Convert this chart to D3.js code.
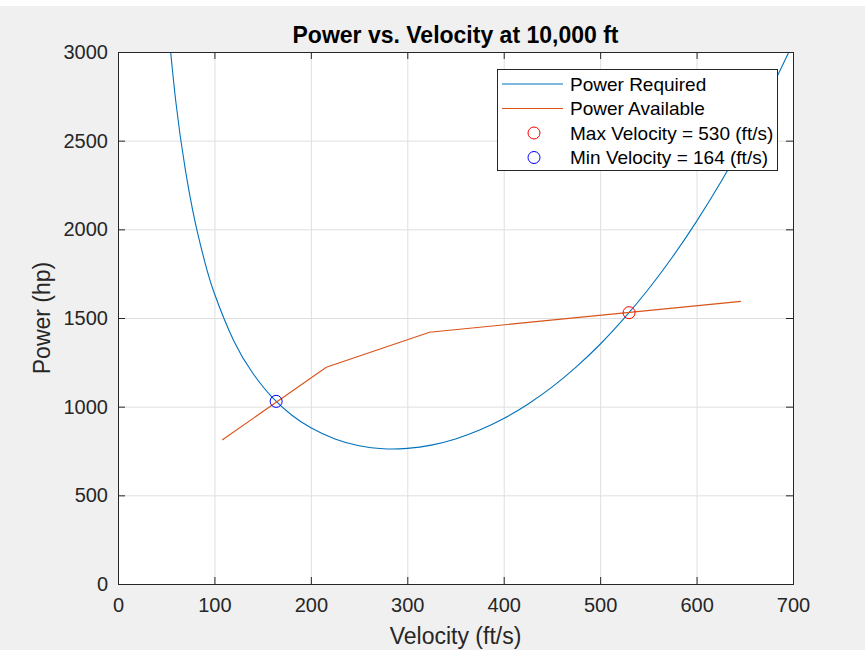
<!DOCTYPE html>
<html>
<head>
<meta charset="utf-8">
<script src="https://cdn.jsdelivr.net/npm/d3@7"></script>
<style>
  html, body { margin: 0; padding: 0; background: #f0f0f0; }
  svg { display: block; }
  text { font-family: "Liberation Sans", Arial, Helvetica, sans-serif; }
</style>
</head>
<body>
<script>
// ---- data ----
const prVelocity = [50, 60, 70, 80, 90, 100, 120, 140, 160, 180, 200, 225, 250, 275, 300, 325, 350, 375, 400, 425, 450, 475, 500, 525, 550, 575, 600, 625, 650, 675, 700];
const prPower    = [3260, 2718, 2331, 2041, 1817, 1638, 1372, 1187, 1052, 953, 881, 818, 780, 763, 765, 783, 818, 868, 933, 1014, 1110, 1223, 1352, 1499, 1662, 1844, 2045, 2265, 2506, 2767, 3049];
const paVelocity = [108, 216, 323, 646];
const paPower    = [812, 1222, 1420, 1594];
const maxPoint = {v: 530, p: 1530};
const minPoint = {v: 164, p: 1030};
const xTicks = [0, 100, 200, 300, 400, 500, 600, 700];
const yTicks = [0, 500, 1000, 1500, 2000, 2500, 3000];
const legendLabels = ["Power Required", "Power Available", "Max Velocity = 530 (ft/s)", "Min Velocity = 164 (ft/s)"];
const titleText = "Power vs. Velocity at 10,000 ft";
const xLabelText = "Velocity (ft/s)";
const yLabelText = "Power (hp)";

const W = 865, H = 650;
const L = 118, R = 793, T = 52, B = 584;
const cBlue = "#0072BD", cOrange = "#D95319", axisCol = "#262626";

const svg = d3.select("body").append("svg").attr("width", W).attr("height", H);
svg.append("rect").attr("x", 0).attr("y", 0).attr("width", W).attr("height", H).attr("fill", "#f0f0f0");
svg.append("rect").attr("x", 0).attr("y", 0).attr("width", W).attr("height", 6).attr("fill", "#ffffff");

const x = d3.scaleLinear().domain([0, 700]).range([L, R]);
const y = d3.scaleLinear().domain([0, 3000]).range([B, T]);

// plot area
svg.append("rect").attr("x", L).attr("y", T).attr("width", R - L).attr("height", B - T).attr("fill", "#fff");

// grid
const grid = svg.append("g");
grid.selectAll(".gx").data(xTicks).enter().append("line")
  .attr("x1", d => x(d) + 0.5).attr("x2", d => x(d) + 0.5).attr("y1", T).attr("y2", B)
  .attr("stroke", "#dfdfdf").attr("stroke-width", 1);
grid.selectAll(".gy").data(yTicks).enter().append("line")
  .attr("y1", d => y(d) + 0.5).attr("y2", d => y(d) + 0.5).attr("x1", L).attr("x2", R)
  .attr("stroke", "#dfdfdf").attr("stroke-width", 1);

// clip
svg.append("defs").append("clipPath").attr("id", "clip")
  .append("rect").attr("x", L).attr("y", T).attr("width", R - L).attr("height", B - T);

const plot = svg.append("g").attr("clip-path", "url(#clip)");

const prData = prVelocity.map((v, i) => [v, prPower[i]]);
const paData = paVelocity.map((v, i) => [v, paPower[i]]);

plot.append("path").datum(prData)
  .attr("d", d3.line().x(d => x(d[0])).y(d => y(d[1])).curve(d3.curveNatural))
  .attr("fill", "none").attr("stroke", cBlue).attr("stroke-width", 1.1);
plot.append("path").datum(paData)
  .attr("d", d3.line().x(d => x(d[0])).y(d => y(d[1])))
  .attr("fill", "none").attr("stroke", cOrange).attr("stroke-width", 1.1);

plot.append("circle").attr("cx", x(maxPoint.v)).attr("cy", y(maxPoint.p)).attr("r", 6)
  .attr("fill", "none").attr("stroke", "#ff0000").attr("stroke-width", 1);
plot.append("circle").attr("cx", x(minPoint.v)).attr("cy", y(minPoint.p)).attr("r", 6)
  .attr("fill", "none").attr("stroke", "#0000ff").attr("stroke-width", 1);

// axes
const tickLen = 7;
const fmt = d3.format("d");
const xAxisB = d3.axisBottom(x).tickValues(xTicks).tickSize(-tickLen).tickPadding(14).tickFormat(fmt);
const yAxisL = d3.axisLeft(y).tickValues(yTicks).tickSize(-tickLen).tickPadding(10).tickFormat(fmt);
const xAxisT = d3.axisTop(x).tickValues(xTicks).tickSize(-tickLen).tickFormat("");
const yAxisR = d3.axisRight(y).tickValues(yTicks).tickSize(-tickLen).tickFormat("");

function styleAxis(g) {
  g.select(".domain").remove();
  g.selectAll(".tick line").attr("stroke", axisCol);
  g.selectAll(".tick text").attr("fill", axisCol).style("font-size", "20px")
    .style("font-family", "'Liberation Sans', Arial, sans-serif");
}
svg.append("g").attr("transform", `translate(0,${B})`).call(xAxisB).call(styleAxis)
  .selectAll(".tick text").attr("dy", "0.71em");
svg.append("g").attr("transform", `translate(${L},0)`).call(yAxisL).call(styleAxis);
svg.append("g").attr("transform", `translate(0,${T})`).call(xAxisT).call(styleAxis);
svg.append("g").attr("transform", `translate(${R},0)`).call(yAxisR).call(styleAxis);

svg.append("rect").attr("x", L + 0.5).attr("y", T + 0.5).attr("width", R - L).attr("height", B - T)
  .attr("fill", "none").attr("stroke", axisCol).attr("stroke-width", 1);

// title and labels
svg.append("text").attr("x", (L + R) / 2).attr("y", 43).attr("text-anchor", "middle")
  .style("font-size", "23px").style("font-weight", "bold").attr("fill", "#000").text(titleText);
svg.append("text").attr("x", (L + R) / 2).attr("y", 644).attr("text-anchor", "middle")
  .style("font-size", "23px").attr("fill", axisCol).text(xLabelText);
svg.append("text").attr("transform", `translate(50,${(T + B) / 2}) rotate(-90)`).attr("text-anchor", "middle")
  .style("font-size", "23px").attr("fill", axisCol).text(yLabelText);

// legend
const lg = svg.append("g");
lg.append("rect").attr("x", 497.5).attr("y", 69.5).attr("width", 280).attr("height", 101)
  .attr("fill", "#fff").attr("stroke", axisCol).attr("stroke-width", 1);
const rowY = [84, 108.5, 133, 157.5];
const sampleX1 = 502, sampleX2 = 563, textX = 570;
lg.append("line").attr("x1", sampleX1).attr("x2", sampleX2).attr("y1", rowY[0]).attr("y2", rowY[0])
  .attr("stroke", cBlue).attr("stroke-width", 1.1);
lg.append("line").attr("x1", sampleX1).attr("x2", sampleX2).attr("y1", rowY[1]).attr("y2", rowY[1])
  .attr("stroke", cOrange).attr("stroke-width", 1.1);
lg.append("circle").attr("cx", 534).attr("cy", rowY[2]).attr("r", 6)
  .attr("fill", "none").attr("stroke", "#ff0000").attr("stroke-width", 1);
lg.append("circle").attr("cx", 534).attr("cy", rowY[3]).attr("r", 6)
  .attr("fill", "none").attr("stroke", "#0000ff").attr("stroke-width", 1);
lg.selectAll(".lt").data(legendLabels).enter().append("text")
  .attr("x", textX).attr("y", (d, i) => rowY[i]).attr("dy", "0.35em")
  .style("font-size", "19px").attr("fill", "#000").text(d => d);
</script>
</body>
</html>
